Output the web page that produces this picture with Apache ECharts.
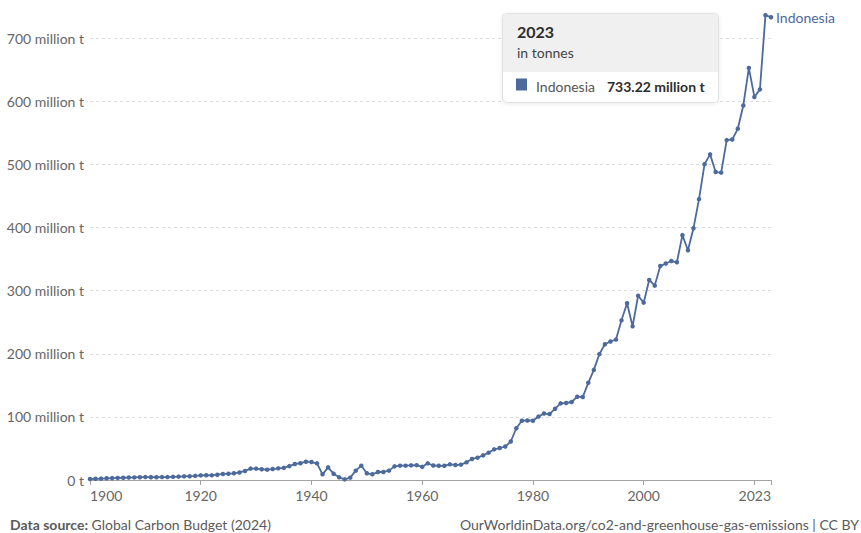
<!DOCTYPE html>
<html>
<head>
<meta charset="utf-8">
<script src="https://cdn.jsdelivr.net/npm/echarts@6/dist/echarts.min.js"></script>
<style>
  html, body { margin: 0; padding: 0; background: #fff; }
  #chart { width: 861px; height: 533px; }
</style>
</head>
<body>
<div id="chart"></div>
<script>
// ---- Data (million tonnes CO2, Indonesia) ----
const seriesName = 'Indonesia';
const startYear = 1900;
const endYear = 2023;
const emissions = [
  1.6, 1.9, 2.2, 2.7, 3.0, 3.3, 3.6, 3.9, 4.1, 4.4,           // 1900-1909
  4.6, 4.4, 4.4, 4.6, 4.6, 5.0, 5.4, 5.8, 6.0, 6.5,           // 1910-1919
  7.3, 7.6, 7.4, 8.4, 9.6, 10.0, 10.6, 12.0, 14.3, 18.0,      // 1920-1929
  18.0, 17.0, 16.4, 17.4, 18.5, 19.2, 22.0, 25.3, 26.6, 29.0, // 1930-1939
  28.5, 26.4, 9.0, 20.0, 10.0, 4.2, 1.0, 3.7, 14.8, 22.7,     // 1940-1949
  10.6, 9.0, 12.7, 12.7, 14.8, 21.6, 22.7, 22.7, 23.2, 23.5,  // 1950-1959
  20.8, 26.4, 23.0, 22.5, 22.5, 24.8, 23.8, 24.3, 28.0, 33.3, // 1960-1969
  35.4, 39.0, 43.3, 48.6, 50.7, 53.0, 61.0, 82.0, 94.0, 94.3, // 1970-1979
  94.0, 100.5, 105.3, 104.5, 113.0, 121.4, 122.0, 123.6, 132.0, 131.5, // 1980-1989
  154.0, 174.5, 199.5, 215.0, 219.5, 222.5, 253.0, 280.0, 243.5, 292.0, // 1990-1999
  281.0, 317.0, 308.0, 339.0, 343.0, 347.0, 345.0, 388.0, 364.0, 399.0, // 2000-2009
  445.0, 500.5, 516.0, 488.0, 487.0, 538.6, 539.6, 556.5, 593.5, 653.0, // 2010-2019
  607.0, 619.0, 736.6, 733.22                                 // 2020-2023
];
const xTickYears = [1900, 1920, 1940, 1960, 1980, 2000, 2023];
const yTicks = [0, 100, 200, 300, 400, 500, 600, 700];
const unitTitle = 'in tonnes';
const sourceLabel = 'Data source:';
const sourceText = ' Global Carbon Budget (2024)';
const urlText = 'OurWorldinData.org/co2-and-greenhouse-gas-emissions | CC BY';

// ---- Build ----
const years = [];
for (let y = startYear; y <= endYear; y++) years.push(y);
const points = years.map((y, i) => [y, emissions[i]]);
const lastVal = emissions[emissions.length - 1];

const BLUE = '#4c6a9c';
const FONT = 'Lato, "Noto Sans", sans-serif';

const chart = echarts.init(document.getElementById('chart'), null, { renderer: 'svg' });

const option = {
  animation: false,
  grid: { left: 90, right: 90, top: 13, bottom: 53, containLabel: false },
  xAxis: {
    type: 'value',
    min: startYear,
    max: endYear,
    interval: 20,
    axisLine: { show: true, lineStyle: { color: '#a3a3a3', width: 1 } },
    axisTick: { show: true, length: 5, lineStyle: { color: '#a3a3a3' } },
    splitLine: { show: false },
    axisLabel: {
      color: '#666',
      fontFamily: FONT,
      fontSize: 14,
      margin: 8,
      alignMinLabel: 'left',
      alignMaxLabel: 'right',
      formatter: v => (xTickYears.indexOf(v) >= 0 ? String(v) : '')
    }
  },
  yAxis: {
    type: 'value',
    min: 0,
    max: 740,
    interval: 100,
    axisLine: { show: false },
    axisTick: { show: false },
    splitLine: {
      show: true,
      showMinLine: false,
      showMaxLine: false,
      lineStyle: { color: '#dddddd', type: [3, 3], width: 1 }
    },
    axisLabel: {
      color: '#666',
      fontFamily: FONT,
      fontSize: 14,
      margin: 6,
      showMaxLabel: false,
      formatter: v => {
        if (yTicks.indexOf(v) < 0) return '';
        return v === 0 ? '0 t' : v + ' million t';
      }
    }
  },
  series: [{
    name: seriesName,
    type: 'line',
    data: points,
    symbol: 'circle',
    symbolSize: 4.5,
    showSymbol: true,
    lineStyle: { color: BLUE, width: 1.8 },
    itemStyle: { color: BLUE },
    clip: false,
    endLabel: {
      show: true,
      formatter: seriesName,
      color: BLUE,
      fontFamily: FONT,
      fontSize: 14,
      distance: 5
    },
    emphasis: { disabled: true }
  }],
  graphic: [
    {
      type: 'rect',
      shape: { x: 502.5, y: 13.5, width: 216, height: 89, r: 4 },
      style: { fill: '#fff', stroke: '#e2e2e2', lineWidth: 1,
               shadowBlur: 4, shadowColor: 'rgba(0,0,0,0.08)', shadowOffsetY: 1 },
      z: 100
    },
    {
      type: 'rect',
      shape: { x: 503, y: 14, width: 215, height: 58, r: [4, 4, 0, 0] },
      style: { fill: '#f0f0f0' },
      z: 101
    },
    {
      type: 'text', x: 517, y: 31, z: 102,
      style: { text: String(endYear), font: 'bold 16px ' + FONT, fill: '#2d2d2d', verticalAlign: 'middle' }
    },
    {
      type: 'text', x: 517, y: 52, z: 102,
      style: { text: unitTitle, font: '14px ' + FONT, fill: '#444', verticalAlign: 'middle' }
    },
    {
      type: 'rect', z: 102,
      shape: { x: 516, y: 78.5, width: 11, height: 12 },
      style: { fill: BLUE }
    },
    {
      type: 'text', x: 536, y: 86, z: 102,
      style: { text: seriesName, font: '14px ' + FONT, fill: '#555', verticalAlign: 'middle' }
    },
    {
      type: 'text', x: 607, y: 86, z: 102,
      style: { text: lastVal.toFixed(2) + ' million t', font: 'bold 14px ' + FONT, fill: '#2d2d2d', verticalAlign: 'middle' }
    },
    {
      type: 'text', x: 10, y: 524, z: 102,
      style: {
        text: '{b|' + sourceLabel + '}{n|' + sourceText + '}',
        verticalAlign: 'middle',
        rich: {
          b: { font: 'bold 14px ' + FONT, fill: '#5b5b5b', fontWeight: 'bold', fontSize: 14, fontFamily: FONT },
          n: { font: '14px ' + FONT, fill: '#5b5b5b', fontSize: 14, fontFamily: FONT }
        }
      }
    },
    {
      type: 'text', x: 859, y: 524, z: 102,
      style: { text: urlText, font: '14px ' + FONT, fill: '#5b5b5b', align: 'right', verticalAlign: 'middle' }
    }
  ]
};
chart.setOption(option);
</script>
</body>
</html>
